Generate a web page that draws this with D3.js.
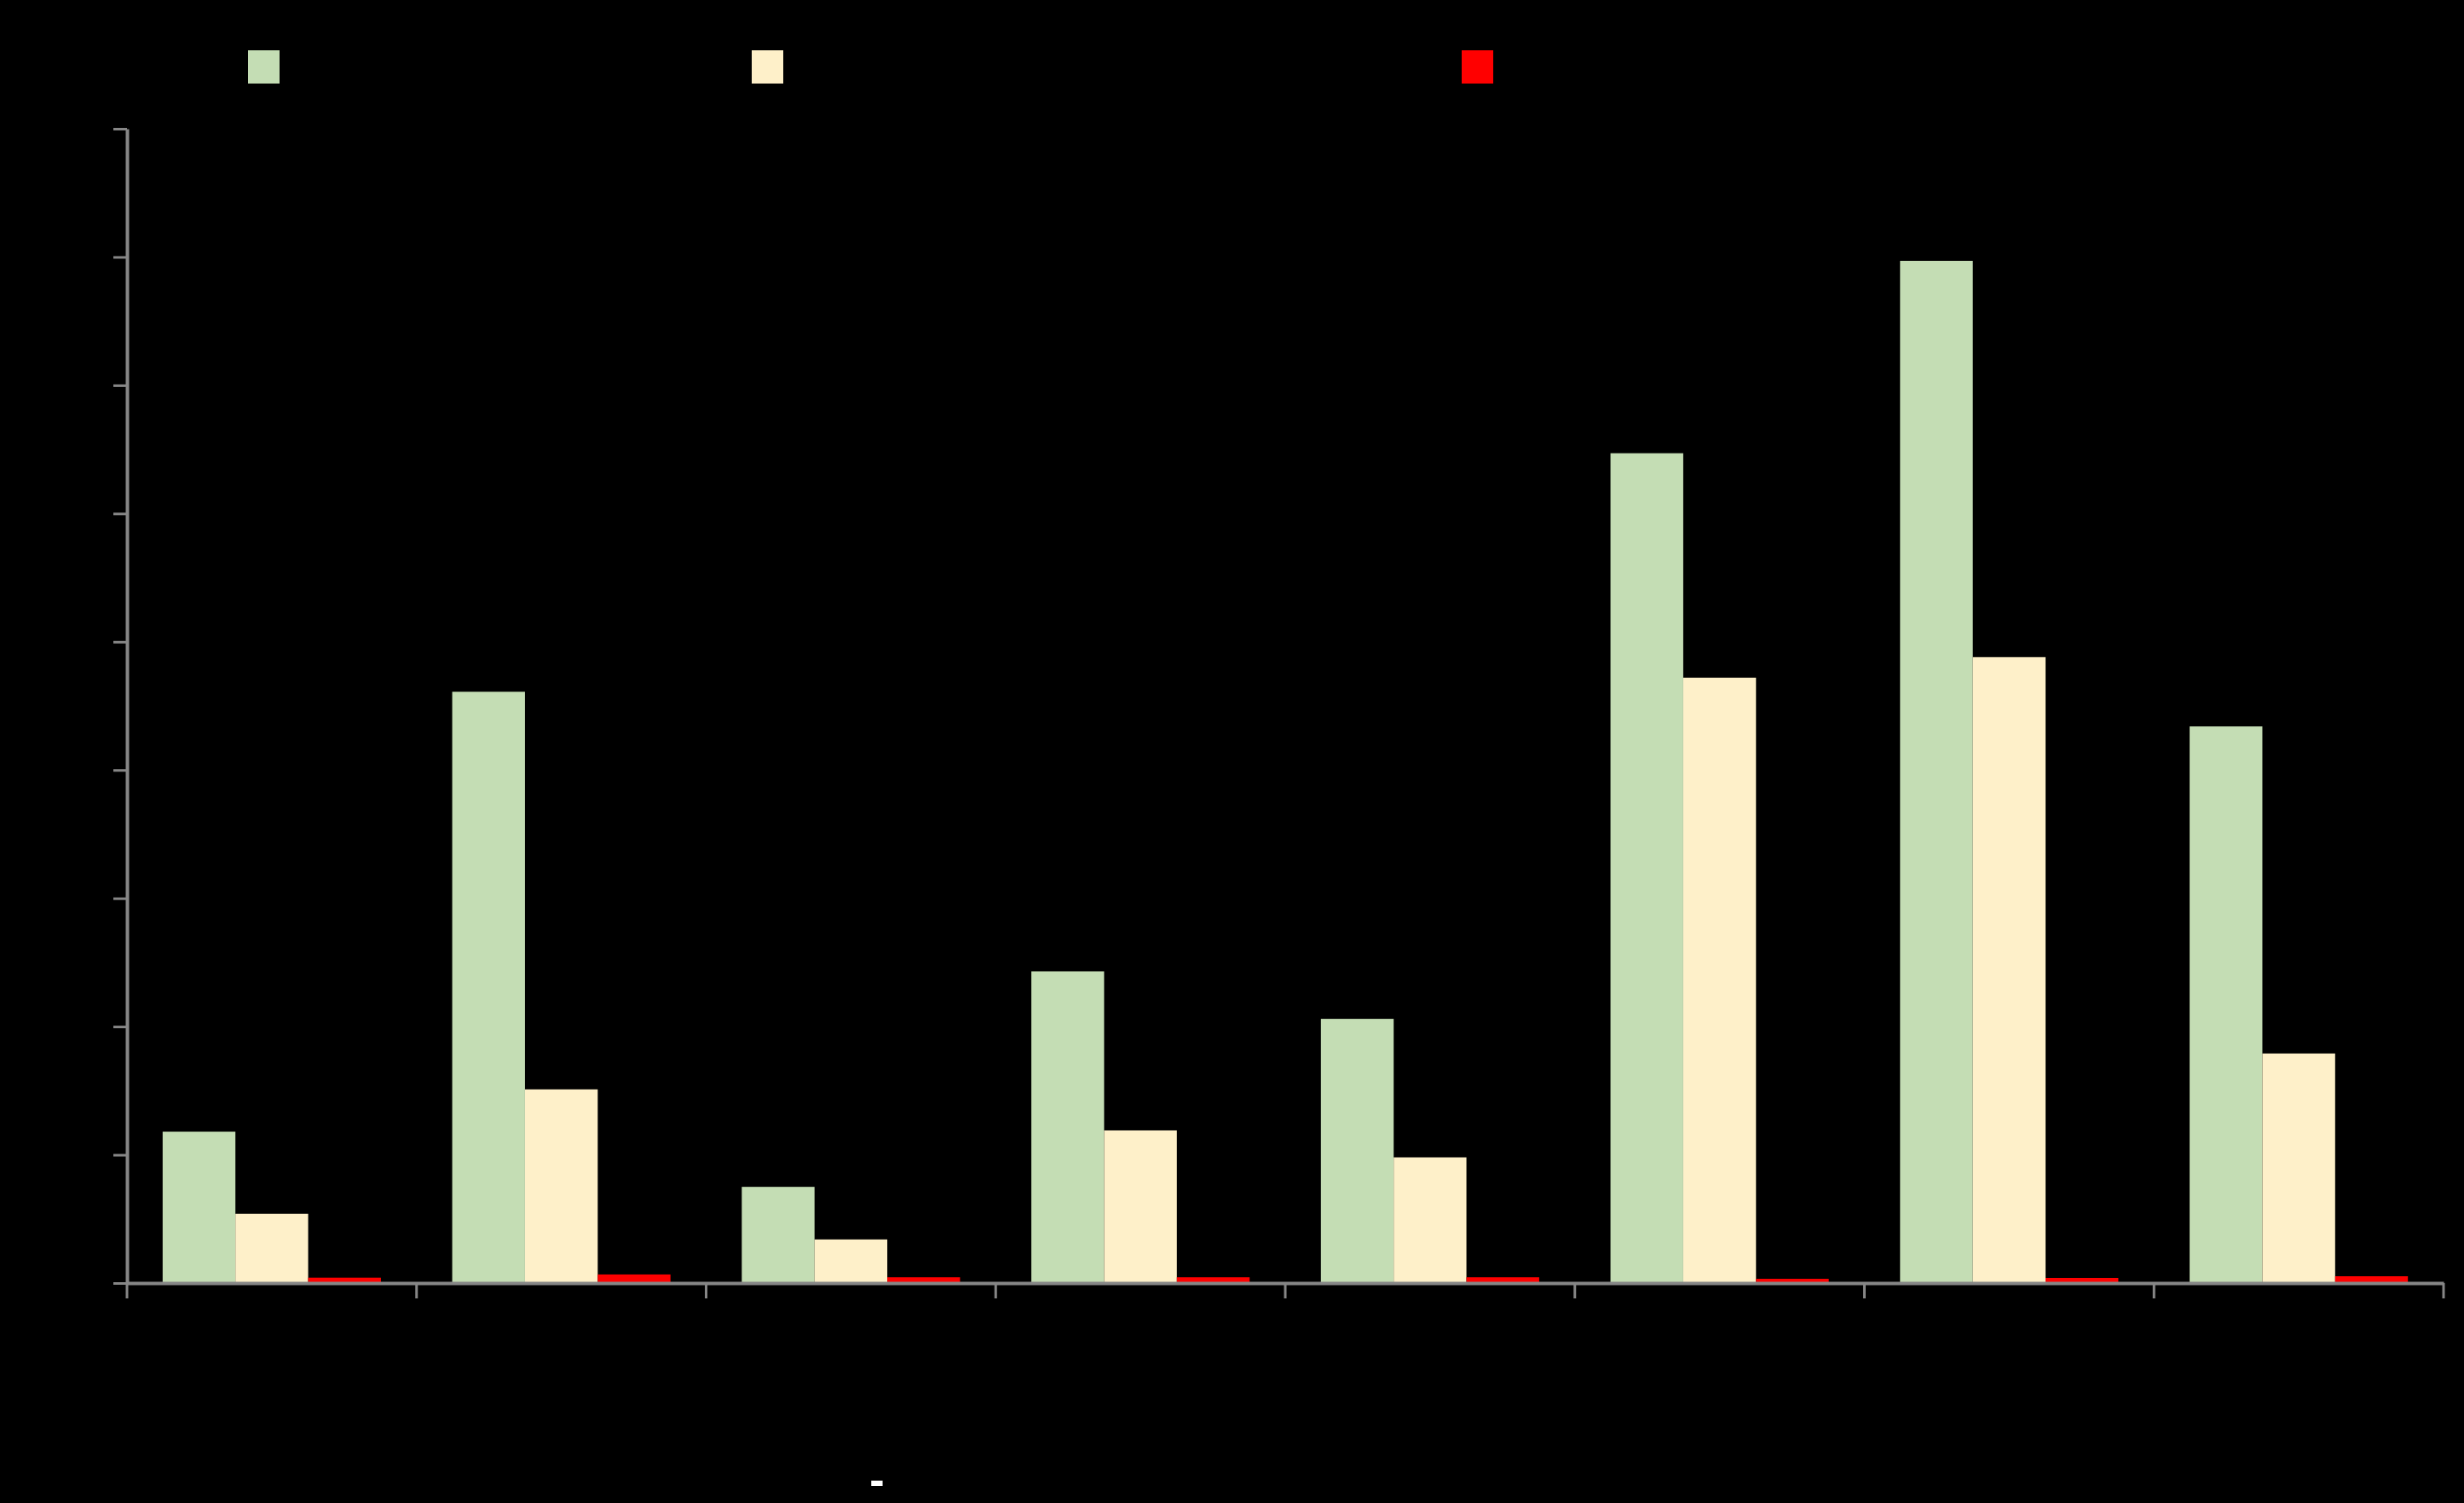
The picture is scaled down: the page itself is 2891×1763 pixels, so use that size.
<!DOCTYPE html>
<html><head><meta charset="utf-8">
<script src="https://cdn.jsdelivr.net/npm/d3@7"></script>
<style>html,body{margin:0;padding:0;background:#000;}svg{display:block;}</style>
</head><body>
<svg id="chart" width="2891" height="1763"></svg>
<script>
const categories = ["1", "2", "3", "4", "5", "6", "7", "8"];
const seriesNames = ["Series 1", "Series 2", "Series 3"];
const seriesA = [11.8, 46.1, 7.5, 24.3, 20.6, 64.7, 79.7, 43.4];
const seriesB = [5.4, 15.1, 3.4, 11.9, 9.8, 47.2, 48.8, 17.9];
const seriesC = [0.42, 0.67, 0.45, 0.45, 0.45, 0.33, 0.4, 0.53];
const yTicks = [0, 10, 20, 30, 40, 50, 60, 70, 80, 90];
const colors = ["#C4DDB4", "#FEF0C9", "#FF0000"];

(function () {
const svg = d3.select("#chart");
svg.append("rect").attr("width", 2891).attr("height", 1763).attr("fill", "#000");

const mLeft = 149, mRight = 2867, mTop = 151, mBottom = 1505;
const x = d3.scaleBand().domain(categories).range([mLeft, mRight]).padding(0);
const xi = d3.scaleBand().domain(seriesNames).range([0, x.bandwidth()]).paddingInner(0).paddingOuter(0.49);
const y = d3.scaleLinear().domain([0, 90]).range([mBottom, mTop]);

const all = [seriesA, seriesB, seriesC];
const g = svg.append("g");
categories.forEach((c, i) => {
  all.forEach((s, j) => {
    g.append("rect")
      .attr("x", x(c) + xi(seriesNames[j]))
      .attr("y", y(s[i]))
      .attr("width", xi.bandwidth())
      .attr("height", y(0) - y(s[i]))
      .attr("fill", colors[j]);
  });
});

// Y axis
const yAxis = d3.axisLeft(y).tickValues(yTicks).tickSize(16).tickSizeOuter(0);
const ya = svg.append("g").attr("transform", `translate(${mLeft},0)`).call(yAxis);
ya.select(".domain").attr("stroke", "#868686").attr("stroke-width", 4);
ya.selectAll(".tick line").attr("stroke", "#868686").attr("stroke-width", 3);
ya.selectAll(".tick text").attr("fill", "#000").attr("font-family", "Liberation Sans, Arial").attr("font-size", 30);

// X axis
const xAxis = d3.axisBottom(x).tickSize(0).tickSizeOuter(0);
const xa = svg.append("g").attr("transform", `translate(0,${mBottom})`).call(xAxis);
xa.select(".domain").attr("stroke", "#868686").attr("stroke-width", 4);
xa.selectAll(".tick text").attr("fill", "#000").attr("font-family", "Liberation Sans, Arial").attr("font-size", 30).attr("dy", "1.5em");
const bounds = categories.map(c => x(c)).concat([mRight]);
xa.selectAll(".sep").data(bounds).enter().append("line")
  .attr("class", "sep").attr("x1", d => d).attr("x2", d => d)
  .attr("y1", 0).attr("y2", 18).attr("stroke", "#868686").attr("stroke-width", 3);

// Legend
const legendX = [291, 882, 1715];
const lg = svg.append("g");
seriesNames.forEach((n, j) => {
  lg.append("rect").attr("x", legendX[j]).attr("y", 59).attr("width", 37).attr("height", 39).attr("fill", colors[j]);
  lg.append("text").attr("x", legendX[j] + 50).attr("y", 90).attr("fill", "#000")
    .attr("font-family", "Liberation Sans, Arial").attr("font-size", 32).text(n);
});

// small white dash near bottom
svg.append("text").attr("x", 1029).attr("y", 1753).attr("text-anchor", "middle")
  .attr("fill", "#fff").attr("font-family", "Liberation Sans, Arial").attr("font-weight", "bold")
  .attr("font-size", 52).text("-");
})();
</script>
</body></html>
